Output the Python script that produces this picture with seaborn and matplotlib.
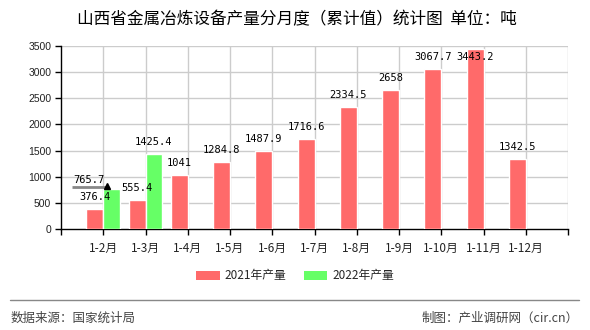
import matplotlib
matplotlib.use("Agg")
import matplotlib.pyplot as plt
import seaborn as sns
import pandas as pd
import numpy as np
from matplotlib.lines import Line2D
from matplotlib.patches import Patch

# Monthly cumulative output of metallurgical equipment, Shanxi (tonnes)
months = ["1-2月", "1-3月", "1-4月", "1-5月", "1-6月", "1-7月",
          "1-8月", "1-9月", "1-10月", "1-11月", "1-12月"]
output_2021 = [376.4, 555.4, 1041, 1284.8, 1487.9, 1716.6,
               2334.5, 2658, 3067.7, 3443.2, 1342.5]
output_2022 = [765.7, 1425.4, None, None, None, None,
               None, None, None, None, None]
series_names = ["2021年产量", "2022年产量"]
y_ticks = [0, 500, 1000, 1500, 2000, 2500, 3000, 3500]

title = "山西省金属冶炼设备产量分月度（累计值）统计图  单位：吨"
source_text = "数据来源：国家统计局"
maker_text = "制图：产业调研网（cir.cn）"

colors = ["#ff6a6a", "#66ff66"]

df = pd.DataFrame({
    "month": months * 2,
    "value": [np.nan if v is None else v for v in output_2021 + output_2022],
    "series": [series_names[0]] * len(months) + [series_names[1]] * len(months),
})

sns.set_theme(style="white")
plt.rcParams["font.family"] = ["Noto Sans CJK SC", "DejaVu Sans"]

fig = plt.figure(figsize=(5.9, 3.3), dpi=100)
ax = fig.add_axes([61 / 590, 1 - 229 / 330, 507 / 590, 183 / 330])

sns.barplot(data=df, x="month", y="value", hue="series", order=months,
            hue_order=series_names, palette=colors, width=0.8,
            saturation=1, ax=ax, legend=False, zorder=3)

ymax = y_ticks[-1]
ax.set_xlim(-1, len(months))
ax.set_ylim(0, ymax)
ax.set_xlabel("")
ax.set_ylabel("")

# grid: vertical lines at every category tick plus the right edge
for xv in range(0, len(months) + 1):
    ax.axvline(xv, color="#cccccc", lw=1, zorder=1)
for yv in y_ticks[1:]:
    ax.axhline(yv, color="#cccccc", lw=1, zorder=1)

for s in ["top", "right"]:
    ax.spines[s].set_visible(False)
for s in ["left", "bottom"]:
    ax.spines[s].set_color("black")
    ax.spines[s].set_linewidth(1)

ax.set_yticks(y_ticks)
ax.set_yticklabels([str(t) for t in y_ticks], family="Liberation Sans",
                   fontsize=7.5, color="#222222")
ax.set_xticks(range(-1, len(months) + 1))
ax.set_xticklabels([""] + months + [""], fontsize=8.5, color="#222222")
ax.tick_params(axis="both", direction="out", length=4, width=1,
               color="black", left=True, bottom=True, pad=3)
ax.tick_params(axis="x", pad=5)

# value labels above bars, kept inside the plotting area
lab_kw = dict(family="DejaVu Sans Mono", fontsize=7.5, color="black",
              ha="center", va="center", zorder=5)
off = 0.2
lift = 230
label_cap = ymax - 210


def label_y(v):
    return min(v + lift, label_cap)


for i, v in enumerate(output_2021):
    ax.text(i - off, label_y(v), f"{v:g}", **lab_kw)
for i, v in enumerate(output_2022):
    if v is None:
        continue
    if i == 0:
        # first label sits to the left, with a pointer line
        ax.text(i - 0.33, v + 170, f"{v:g}", **lab_kw)
        ax.plot([i - 0.73, i + 0.1], [v + 45, v + 45], color="#888888",
                lw=2, zorder=4, solid_capstyle="butt")
        ax.plot([i + 0.1], [v + 60], marker="^", color="black",
                markersize=5, zorder=6)
    else:
        ax.text(i + off, label_y(v), f"{v:g}", **lab_kw)

fig.suptitle(title, x=0.503, y=0.965, fontsize=12, color="black")

handles = [Patch(facecolor=c, edgecolor="none") for c in colors]
fig.legend(handles, series_names, loc="center", bbox_to_anchor=(0.5, 1 - 276 / 330),
           ncol=2, frameon=False, fontsize=8.5, handlelength=2.0,
           handleheight=0.9, columnspacing=1.5, handletextpad=0.4)

fig.add_artist(Line2D([10 / 590, 579 / 590], [1 - 300 / 330, 1 - 300 / 330],
                      color="#888888", lw=1))
fig.text(11 / 590, 1 - 318 / 330, source_text, fontsize=9, color="#444444",
         ha="left", va="center")
fig.text(579 / 590, 1 - 318 / 330, maker_text, fontsize=9, color="#444444",
         ha="right", va="center")

fig.savefig("out.png", dpi=100)
